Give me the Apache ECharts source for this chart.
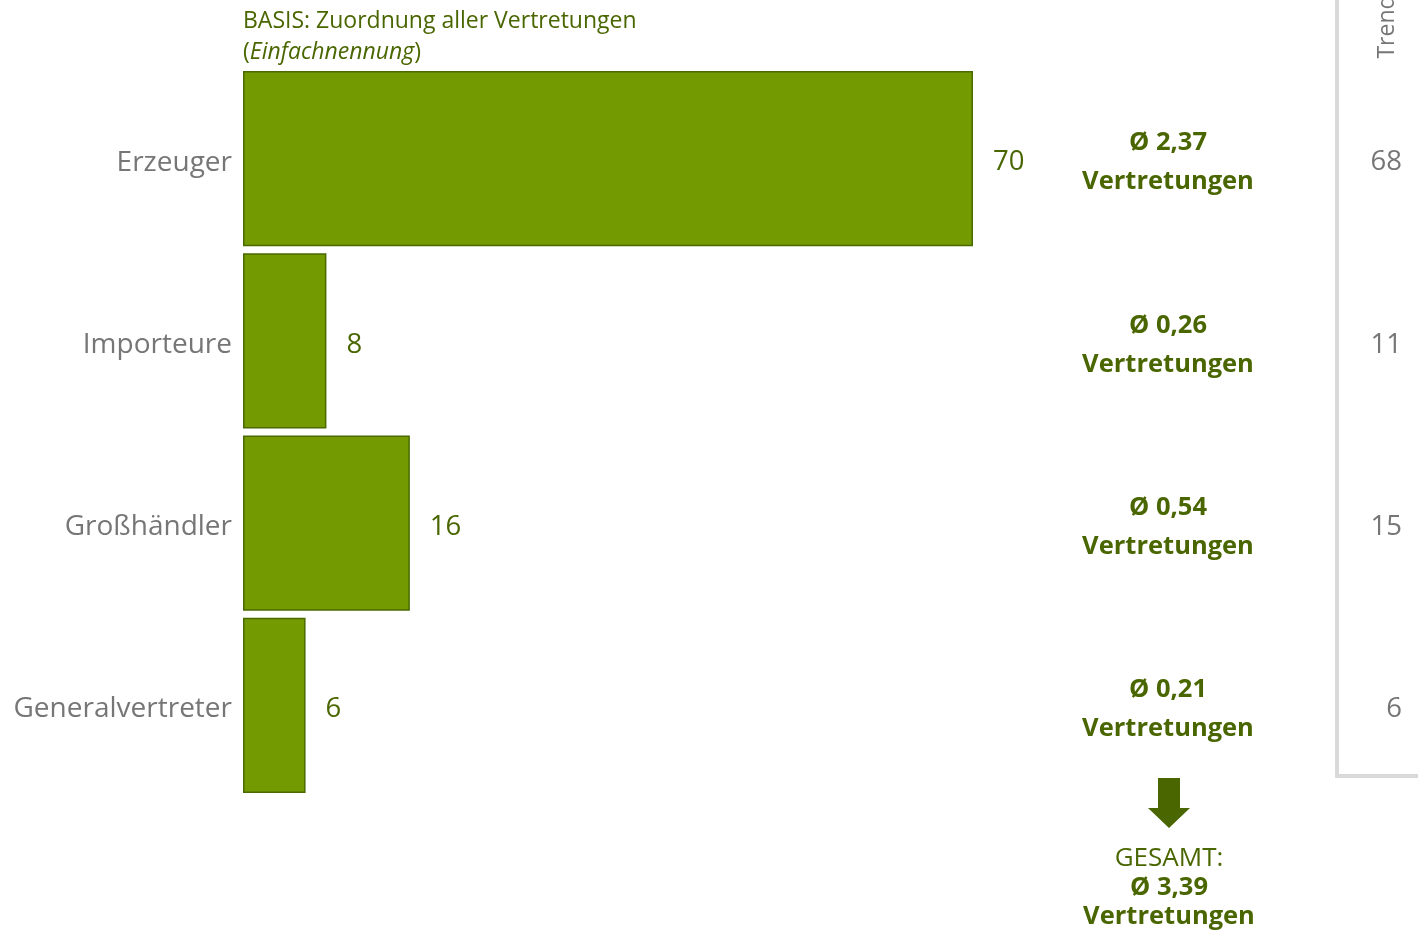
<!DOCTYPE html>
<html><head><meta charset="utf-8">
<script src="https://cdn.jsdelivr.net/npm/echarts@6/dist/echarts.min.js"></script>
<style>html,body{margin:0;padding:0;background:#fff}#c{width:1418px;height:932px}</style>
</head><body><div id="c"></div>
<script>
const categories = ['Erzeuger', 'Importeure', 'Großhändler', 'Generalvertreter'];
const values = [70, 8, 16, 6];
const averages = ['2,37', '0,26', '0,54', '0,21'];
const trendValues = [68, 11, 15, 6];
const totalAverage = '3,39';
const subtitle = 'BASIS: Zuordnung aller Vertretungen';
const subtitleItalic = 'Einfachnennung';
const trendTitle = 'Trend';

const FONT = '"Open Sans", sans-serif';
const GREEN = '#739a00';
const DARK = '#4a6600';
const GREY = '#767676';

const chart = echarts.init(document.getElementById('c'), null, {renderer: 'canvas'});
chart.setOption({
  animation: false,
  grid: {left: 243, right: 445, top: 67.5, bottom: 135.5, containLabel: false},
  xAxis: {type: 'value', min: 0, max: 70, show: false},
  yAxis: [
    {type: 'category', data: categories, inverse: true,
     axisLine: {show: false}, axisTick: {show: false},
     axisLabel: {color: GREY, fontFamily: FONT, fontSize: 28, margin: 11, verticalAlign: 'top', lineHeight: 8}},
    {type: 'category', data: averages, inverse: true, position: 'right',
     axisLine: {show: false}, axisTick: {show: false},
     axisLabel: {margin: 195, align: 'center', padding: [8, 0, 0, 0],
       formatter: v => '{b|Ø ' + v + '}\n{b|Vertretungen}',
       rich: {b: {color: DARK, fontFamily: FONT, fontSize: 25.5, fontWeight: 'bold', lineHeight: 39, align: 'center'}}}},
    {type: 'category', data: trendValues, inverse: true, position: 'right',
     axisLine: {show: false}, axisTick: {show: false},
     axisLabel: {margin: 429, align: 'right', color: GREY, fontFamily: FONT, fontSize: 27.5, verticalAlign: 'top', lineHeight: 8}}
  ],
  series: [{
    type: 'bar', data: values, yAxisIndex: 0,
    barCategoryGap: '3.8%',
    itemStyle: {color: GREEN, borderColor: '#4a6a00', borderWidth: 1.5},
    label: {show: true, position: 'right', distance: 20, offset: [0, 4], color: DARK, fontFamily: FONT, fontSize: 27.5}
  }],
  graphic: [
    {type: 'text', left: 243, top: 6, style: {
      text: subtitle + '\n({i|' + subtitleItalic + '})',
      fill: DARK, font: '23px ' + FONT, lineHeight: 31,
      rich: {i: {fontStyle: 'italic', fill: DARK, fontSize: 23, fontFamily: FONT}}}},
    {type: 'polyline', shape: {points: [[1337, 0], [1337, 776], [1418, 776]]},
     style: {stroke: '#d9d9d9', lineWidth: 4, fill: null}},
    {type: 'text', x: 1387, y: 27, rotation: Math.PI / 2, style: {
      text: trendTitle, fill: GREY, font: '23px ' + FONT, align: 'center', verticalAlign: 'middle'}},
    {type: 'polygon', shape: {points: [[1158, 778], [1180, 778], [1180, 808], [1190, 808], [1169, 828], [1148, 808], [1158, 808]]},
     style: {fill: DARK}},
    {type: 'text', x: 1169, y: 844, style: {
      text: 'GESAMT:\n{b|Ø ' + totalAverage + '}\n{b|Vertretungen}', align: 'center',
      fill: DARK, font: '26px ' + FONT, lineHeight: 29,
      rich: {b: {fontWeight: 'bold', fill: DARK, fontSize: 25.5, fontFamily: FONT, lineHeight: 29}}}}
  ]
});
</script></body></html>
